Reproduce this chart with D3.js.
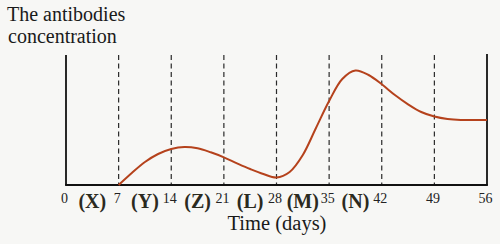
<!DOCTYPE html>
<html>
<head>
<meta charset="utf-8">
<script src="https://cdn.jsdelivr.net/npm/d3@7"></script>
<style>
  html, body { margin: 0; padding: 0; background: #f7f7f5; }
  svg { display: block; }
</style>
</head>
<body>
<div id="chart"></div>
<script>
const days = [7, 8.75, 10.5, 12.25, 14, 15.75, 17.5, 19.25, 21, 22.75, 24.5, 26.25, 28,
  29.75, 31.5, 33.25, 35, 36.75, 38.5, 40.25, 42, 43.75, 45.5, 47.25, 49, 50.75, 52.5, 54.25, 56];
const concentration = [0, 12, 23, 31, 36, 38, 36.7, 32.7, 27.7, 21.7, 16, 11, 7.5,
  13, 30, 57, 84, 106, 114.5, 110, 100.7, 90, 80.7, 73, 68.5, 66, 65, 65, 65];
const tickDays = [0, 7, 14, 21, 28, 35, 42, 49, 56];
const stageLabels = ['(X)', '(Y)', '(Z)', '(L)', '(M)', '(N)'];

const width = 500, height = 244;
const margin = { top: 55, right: 13, bottom: 59, left: 66 };
const innerW = width - margin.left - margin.right;
const innerH = height - margin.top - margin.bottom;

const svg = d3.select('#chart')
  .append('svg')
  .attr('width', width)
  .attr('height', height)
  .style('background', '#f7f7f5');

const g = svg.append('g')
  .attr('transform', `translate(${margin.left},${margin.top})`);

const x = d3.scaleLinear().domain([0, 56]).range([0, innerW]);
const y = d3.scaleLinear().domain([0, 130]).range([innerH, 0]);

const serif = '"Liberation Serif", "DejaVu Serif", serif';

// Dashed week lines
g.selectAll('.week-line')
  .data(tickDays.slice(1, -1))
  .enter()
  .append('line')
  .attr('class', 'week-line')
  .attr('x1', d => x(d))
  .attr('x2', d => x(d))
  .attr('y1', 0)
  .attr('y2', innerH)
  .style('stroke', '#2a2a2a')
  .style('stroke-width', 1.2)
  .style('stroke-dasharray', '5,3.5');

// Axes frame: left, bottom, right
g.append('line')
  .attr('x1', x(0)).attr('x2', x(0))
  .attr('y1', 0).attr('y2', innerH)
  .style('stroke', '#111').style('stroke-width', 1.8);

g.append('line')
  .attr('x1', x(56)).attr('x2', x(56))
  .attr('y1', -1).attr('y2', innerH)
  .style('stroke', '#111').style('stroke-width', 1.8);

g.append('line')
  .attr('x1', x(0) - 0.9).attr('x2', x(56) + 0.9)
  .attr('y1', innerH).attr('y2', innerH)
  .style('stroke', '#111').style('stroke-width', 1.8);

// Curve
const line = d3.line()
  .x((d, i) => x(days[i]))
  .y(d => y(d))
  .curve(d3.curveCatmullRom.alpha(0.5));

g.append('path')
  .datum(concentration)
  .attr('d', line)
  .style('fill', 'none')
  .style('stroke', '#b5421c')
  .style('stroke-width', 2);

// Day tick labels
g.selectAll('.day-label')
  .data(tickDays)
  .enter()
  .append('text')
  .attr('class', 'day-label')
  .attr('x', d => x(d) - 1.5)
  .attr('y', innerH + 18)
  .attr('text-anchor', 'middle')
  .style('font-family', serif)
  .style('font-size', '14px')
  .style('fill', '#222')
  .text(d => d);

// Stage labels between weeks
g.selectAll('.stage-label')
  .data(stageLabels)
  .enter()
  .append('text')
  .attr('class', 'stage-label')
  .attr('x', (d, i) => x(tickDays[i] + 3.5))
  .attr('y', innerH + 23)
  .attr('text-anchor', 'middle')
  .style('font-family', serif)
  .style('font-size', '20px')
  .style('font-weight', 'bold')
  .style('fill', '#2b2a1e')
  .text(d => d);

// Axis title
g.append('text')
  .attr('x', 211)
  .attr('y', innerH + 45)
  .attr('text-anchor', 'middle')
  .style('font-family', serif)
  .style('font-size', '20.5px')
  .style('fill', '#1a1a1a')
  .text('Time (days)');

// Y title
svg.append('text')
  .attr('x', 7)
  .attr('y', 21)
  .style('font-family', serif)
  .style('font-size', '20px')
  .style('fill', '#1a1a1a')
  .text('The antibodies');

svg.append('text')
  .attr('x', 8)
  .attr('y', 43)
  .style('font-family', serif)
  .style('font-size', '20px')
  .style('fill', '#1a1a1a')
  .text('concentration');
</script>
</body>
</html>
